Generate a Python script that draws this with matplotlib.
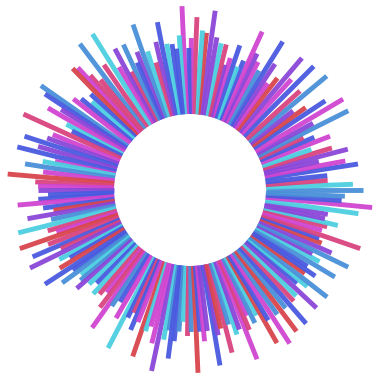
import numpy as np
import matplotlib
matplotlib.use("Agg")
import matplotlib.pyplot as plt

# bar angle (degrees, counter-clockwise from east), outer value, colour key
angles = [0, 2, 4, 6, 8.8, 10.6, 12.5, 14.5, 16.5, 18.5, 21, 23, 24.8, 26.6, 28.5, 30.7, 33.4, 35.5, 37.5, 39.8,
          42, 45, 47.5, 49.7, 52, 54, 56, 58, 60, 62, 63.8, 65.5, 67.5, 69, 71, 73, 74.5, 76, 78, 80,
          82, 84, 85.5, 87.7, 89.5, 90.5, 92.5, 94, 95.5, 97, 99, 101, 103, 105, 107, 109, 111, 112.5, 114.6, 116.5,
          118, 120, 122, 124.5, 127, 129, 131, 132.5, 134, 136, 138, 140, 142, 145, 146.5, 148, 150, 152, 153.5, 155.5,
          158, 160, 162, 164, 166, 168, 169, 171, 173, 175, 177, 178.5, 180, 182, 183.5, 185, 187, 188.5, 190, 192,
          194, 196, 197.5, 199, 201, 203, 204.5, 206, 208, 209.5, 211, 213, 214.5, 216, 218, 219.5, 221, 223, 225, 227,
          229, 231, 232.5, 234.6, 236, 238, 240, 242.6, 244, 245.5, 247, 248.5, 251, 252.5, 254, 256, 258, 260, 261.5, 262.6,
          264, 265.5, 267, 269, 270.5, 272.5, 274, 275.5, 277, 279.7, 281, 282.5, 284.5, 286, 288, 289.5, 291.6, 293, 294.5, 296,
          298, 299.6, 301, 303, 305, 307, 309, 311, 313, 315, 317, 319, 320.5, 322, 324, 325.5, 327, 329, 331, 332.5,
          334, 336, 338, 339.5, 341, 343, 345, 346.5, 348, 350, 352, 354.5, 356, 357.7]
values = [173, 163, 138, 138, 170, 158, 132, 163, 148, 128, 150, 135, 125, 177, 140, 178, 162, 142, 130, 178,
          148, 175, 150, 173, 142, 132, 152, 175, 138, 145, 152, 174, 140, 132, 153, 138, 130, 150, 150, 155,
          181, 158, 160, 173, 152, 142, 184, 155, 142, 147, 148, 171, 152, 132, 145, 175, 148, 138, 160, 132,
          160, 142, 184, 152, 183, 142, 152, 166, 169, 138, 132, 142, 148, 182, 174, 152, 164, 140, 132, 183,
          148, 152, 174, 158, 178, 138, 150, 167, 148, 183, 155, 152, 152, 142, 152, 173, 148, 138, 165, 142,
          177, 148, 140, 180, 152, 171, 142, 178, 148, 138, 152, 173, 142, 158, 138, 142, 150, 138, 132, 142,
          138, 132, 148, 169, 140, 132, 148, 178, 142, 135, 152, 142, 176, 148, 142, 158, 185, 152, 142, 170,
          152, 142, 132, 146, 142, 183, 142, 152, 142, 178, 148, 142, 168, 140, 152, 148, 182, 152, 138, 148,
          142, 176, 152, 183, 152, 177, 152, 177, 152, 150, 173, 142, 152, 174, 142, 152, 140, 169, 148, 138,
          176, 155, 142, 138, 180, 138, 142, 152, 138, 140, 170, 183, 152, 155]
color_keys = ("sckbbmppkcmbksp" "mbrps" "kbmprmpbsmpmbcbmpkcp"
              "prckmbmcbbcbpkcsp" "bskpmcksk" "kmrbcbmsbpmcbkmpbpbmcs" "mrkmpbbmbrp"
              "sckmrkbkpcbrbbscspcbckmkmsbmcbkbmrcmmpcsbbscks" "rbmpbprksc" "pmkmscrbmsrsbkcpbcsrbbscpsprbkmkcpp" "cmb")
palette = {"c": "#4ccfe0", "s": "#4a8fd8", "b": "#4a5ae0", "p": "#8a46d8",
           "m": "#d044d0", "k": "#d9447f", "r": "#d8454c"}
inner = 76

n = len(angles)
keys = (color_keys * 2)[:n]
cols = [palette[k] for k in keys]

fig = plt.figure(figsize=(3.8, 3.8), dpi=100)
ax = fig.add_axes([0, 0, 1, 1], projection="polar")
ax.set_ylim(0, 190)
ax.vlines(np.deg2rad(angles), inner, values, colors=cols, linewidth=3.5,
          capstyle="butt", alpha=0.95)
ax.set_axis_off()
fig.savefig("out.png", dpi=100, facecolor="white")
